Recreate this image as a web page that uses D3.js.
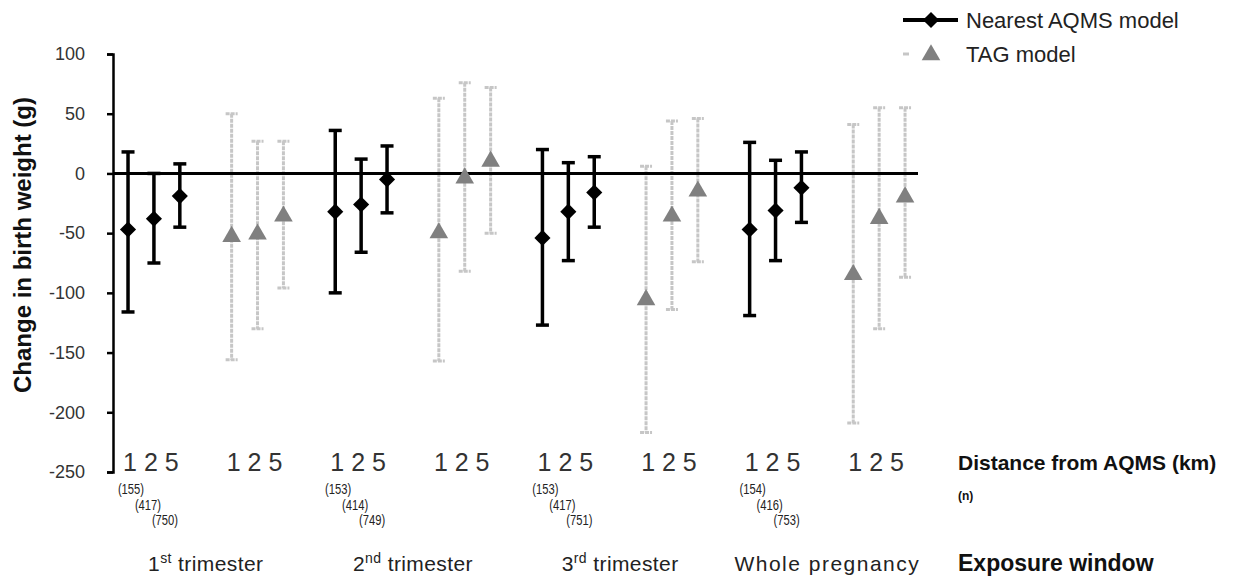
<!DOCTYPE html>
<html>
<head>
<meta charset="utf-8">
<script src="https://cdn.jsdelivr.net/npm/d3@7"></script>
<style>
  body { margin: 0; background: #fff; }
  svg { display: block; font-family: "Liberation Sans", Arial, sans-serif; }
</style>
</head>
<body>
<svg width="1247" height="578"></svg>
<script>
//data
const windowLabels = ["1st trimester", "2nd trimester", "3rd trimester", "Whole pregnancy"];
const distances = ["1", "2", "5"];
const nCounts = [[155, 417, 750], [153, 414, 749], [153, 417, 751], [154, 416, 753]];

// nearest AQMS model
const aqmsEst  = [[-47, -38, -19], [-32, -26, -5], [-54, -32, -16], [-47, -31, -12]];
const aqmsLow  = [[-116, -75, -45], [-100, -66, -33], [-127, -73, -45], [-119, -73, -41]];
const aqmsHigh = [[18, 0, 8], [36, 12, 23], [20, 9, 14], [26, 11, 18]];

// TAG model
const tagEst  = [[-52, -50, -35], [-49, -3, 11], [-105, -35, -14], [-84, -37, -19]];
const tagLow  = [[-156, -130, -96], [-157, -82, -50], [-217, -114, -74], [-209, -130, -87]];
const tagHigh = [[50, 27, 27], [63, 76, 72], [6, 44, 46], [41, 55, 55]];

const yTicks = [100, 50, 0, -50, -100, -150, -200, -250];
const seriesNames = ["Nearest AQMS model", "TAG model"];

//scales
const slot = (w, m, j) => (w * 2 + m) * 4 + j;

const x = d3.scaleLinear()
    .domain([-0.58, 30.5])
    .range([113, 918]);

const y = d3.scaleLinear()
    .domain([-250, 100])
    .range([472, 54]);

const svg = d3.select("svg");

//rows
function rows(est, low, high, m) {
    let out = [];
    est.forEach((g, w) => g.forEach((v, j) => {
        out.push({w: w, j: j, x: x(slot(w, m, j)), est: v, low: low[w][j], high: high[w][j]});
    }));
    return out;
}
const aqms = rows(aqmsEst, aqmsLow, aqmsHigh, 0);
const tag = rows(tagEst, tagLow, tagHigh, 1);

//y axis
const gY = svg.append("g")
    .attr("transform", "translate(113,0)")
    .call(d3.axisLeft(y)
        .tickValues(yTicks)
        .tickSize(6)
        .tickPadding(22)
        .tickFormat(d => String(d)));
gY.select(".domain").attr("stroke", "#000").attr("stroke-width", 2.5);
gY.selectAll(".tick line").attr("stroke", "#000").attr("stroke-width", 2.5);
gY.selectAll(".tick text")
    .attr("fill", "#333")
    .style("font-size", "18px")
    .style("font-family", "'Liberation Sans', Arial, sans-serif");

//error bars
function errorBars(data, color, width, capW, dash) {
    let g = svg.append("g");
    g.selectAll(".stem").data(data).enter().append("line")
        .attr("x1", d => d.x).attr("x2", d => d.x)
        .attr("y1", d => y(d.high)).attr("y2", d => y(d.low))
        .attr("stroke", color).attr("stroke-width", width)
        .attr("stroke-dasharray", dash);
    ["high", "low"].forEach(k => {
        g.selectAll(".cap-" + k).data(data).enter().append("line")
            .attr("x1", d => d.x - capW / 2).attr("x2", d => d.x + capW / 2)
            .attr("y1", d => y(d[k])).attr("y2", d => y(d[k]))
            .attr("stroke", color).attr("stroke-width", width)
            .attr("stroke-dasharray", dash);
    });
}

errorBars(tag, "#c6c6c6", 3, 12, "4,1");

//zero line
svg.append("line")
    .attr("x1", x.range()[0]).attr("x2", x.range()[1])
    .attr("y1", y(0)).attr("y2", y(0))
    .attr("stroke", "#000").attr("stroke-width", 3);

const tri = d3.symbol().type(d3.symbolTriangle).size(150);
const dia = d3.symbol().type(d3.symbolSquare).size(130);

svg.append("g").selectAll("path").data(tag).enter().append("path")
    .attr("d", tri)
    .attr("transform", d => "translate(" + d.x + "," + (y(d.est) + 1) + ")")
    .attr("fill", "#808080");

errorBars(aqms, "#000", 3.5, 13, null);

svg.append("g").selectAll("path").data(aqms).enter().append("path")
    .attr("d", dia)
    .attr("transform", d => "translate(" + d.x + "," + y(d.est) + ") rotate(45)")
    .attr("fill", "#000");

//distance labels
for (let w = 0; w < windowLabels.length; w++) {
    for (let m = 0; m < 2; m++) {
        svg.append("text")
            .attr("x", x(slot(w, m, 1)) - 3)
            .attr("y", 471)
            .attr("text-anchor", "middle")
            .attr("fill", "#333")
            .style("font-size", "25px")
            .text(distances.join(" "));
    }
    // n counts, staggered under nearest AQMS cluster
    nCounts[w].forEach((n, j) => {
        svg.append("text")
            .attr("transform", "translate(" + (x(slot(w, 0, 1)) - 6 + (j - 1) * 17) + "," + (494 + j * 15.5) + ") scale(0.8,1)")
            .attr("text-anchor", "middle")
            .attr("fill", "#222")
            .style("font-size", "14px")
            .text("(" + n + ")");
    });
    // exposure window label
    let cx = (x(slot(w, 0, 0)) + x(slot(w, 1, 2))) / 2;
    let lab = svg.append("text")
        .attr("x", cx)
        .attr("y", 571)
        .attr("text-anchor", "middle")
        .attr("fill", "#222")
        .style("font-size", "21px")
        .style("letter-spacing", "0.4px");
    let mt = windowLabels[w].match(/^(\d)(st|nd|rd)(.*)$/);
    if (mt) {
        lab.append("tspan").text(mt[1]);
        lab.append("tspan").attr("dy", -8).style("font-size", "14px").text(mt[2]);
        lab.append("tspan").attr("dy", 8).text(mt[3]);
    } else {
        lab.style("letter-spacing", "1.5px").text(windowLabels[w]);
    }
}

//right side labels
svg.append("text")
    .attr("x", 958).attr("y", 470)
    .attr("fill", "#111")
    .style("font-size", "21px").style("font-weight", "bold")
    .text("Distance from AQMS (km)");
svg.append("text")
    .attr("x", 958).attr("y", 500)
    .attr("fill", "#111")
    .style("font-size", "12px").style("font-weight", "bold")
    .text("(n)");
svg.append("text")
    .attr("x", 958).attr("y", 571)
    .attr("fill", "#111")
    .style("font-size", "23px").style("font-weight", "bold")
    .text("Exposure window");

//y title
svg.append("text")
    .attr("transform", "translate(31,245) rotate(-90)")
    .attr("text-anchor", "middle")
    .attr("fill", "#111")
    .style("font-size", "24px").style("font-weight", "bold")
    .text("Change in birth weight (g)");

//legend
const legend = svg.append("g");
legend.append("line")
    .attr("x1", 903).attr("x2", 958).attr("y1", 20).attr("y2", 20)
    .attr("stroke", "#000").attr("stroke-width", 4);
legend.append("path")
    .attr("d", dia)
    .attr("transform", "translate(931,20) rotate(45)")
    .attr("fill", "#000");
legend.append("line")
    .attr("x1", 903).attr("x2", 909).attr("y1", 54).attr("y2", 54)
    .attr("stroke", "#c6c6c6").attr("stroke-width", 3);
legend.append("path")
    .attr("d", tri)
    .attr("transform", "translate(931,55)")
    .attr("fill", "#808080");
seriesNames.forEach((s, i) => {
    legend.append("text")
        .attr("x", 966).attr("y", 20 + i * 34)
        .attr("dy", "0.35em")
        .attr("fill", "#222")
        .style("font-size", "22px")
        .text(s);
});
</script>
</body>
</html>
